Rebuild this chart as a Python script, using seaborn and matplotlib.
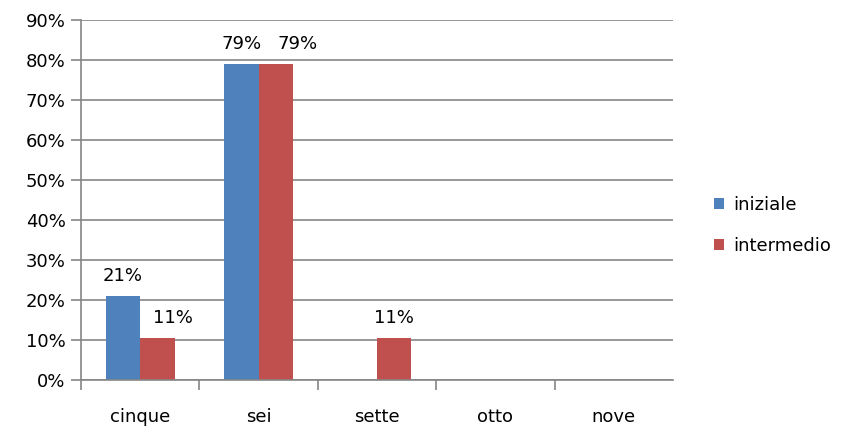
import matplotlib
matplotlib.use("Agg")
import matplotlib.pyplot as plt
import matplotlib.ticker as mticker
import pandas as pd
import seaborn as sns

## data (counts out of 19)
categorie = ['cinque', 'sei', 'sette', 'otto', 'nove']
iniziale = [21.05, 78.95, 0, 0, 0]
intermedio = [10.53, 78.95, 10.53, 0, 0]
serie = ['iniziale', 'intermedio']
colori = ['#4F81BD', '#C0504D']

df = pd.DataFrame({
    'categoria': categorie * 2,
    'valore': iniziale + intermedio,
    'serie': [serie[0]] * len(categorie) + [serie[1]] * len(categorie),
})

sns.set_style("white")
plt.rcParams['font.family'] = ['DejaVu Sans']
plt.rcParams['text.color'] = 'black'
plt.rcParams['xtick.color'] = 'black'
plt.rcParams['ytick.color'] = 'black'

fig = plt.figure(figsize=(8.5, 4.29), dpi=100)
ax = fig.add_axes([0.0953, 0.1142, 0.6965, 0.8392])

sns.barplot(data=df, x='categoria', y='valore', hue='serie', palette=colori,
            width=0.58, saturation=1, linewidth=0, ax=ax, legend=True)

ax.set_ylim(0, 90)
ax.set_xlim(-0.5, 4.5)
ax.yaxis.set_major_locator(mticker.MultipleLocator(10))
ax.yaxis.set_major_formatter(mticker.FuncFormatter(lambda v, p: '%d%%' % v))
ax.grid(axis='y', color='#868686', linewidth=1.2)
ax.set_axisbelow(True)
ax.set_xlabel('')
ax.set_ylabel('')

for s in ['top', 'right']:
    ax.spines[s].set_visible(False)
for s in ['left', 'bottom']:
    ax.spines[s].set_color('#868686')
    ax.spines[s].set_linewidth(1.2)

ax.tick_params(axis='y', length=7, width=1.2, color='#868686', labelsize=13, pad=4, left=True)
ax.tick_params(axis='x', which='major', length=0, labelsize=13, pad=20)
ax.set_xticks([-0.5, 0.5, 1.5, 2.5, 3.5], minor=True)
ax.tick_params(axis='x', which='minor', length=7, width=1.2, color='#868686', bottom=True)

## value labels, like Excel: the second series' labels are nudged right
## when they sit next to a label of the first series
for j, cont in enumerate(ax.containers):
    for i, b in enumerate(cont):
        h = b.get_height()
        if h <= 0:
            continue
        dx = 0
        if j == 1 and iniziale[i] > 0:
            dx = 11 if iniziale[i] > h else 16
        ax.annotate('%d%%' % round(h), (b.get_x() + b.get_width() / 2, h),
                    xytext=(dx, 8), textcoords='offset points',
                    ha='center', va='bottom', fontsize=13)

leg = ax.legend(loc='center left', bbox_to_anchor=(1.042, 0.429), frameon=False,
                fontsize=13, handlelength=0.55, handleheight=0.55, labelspacing=1.28,
                handletextpad=0.5)

fig.savefig('out.png', dpi=100)
